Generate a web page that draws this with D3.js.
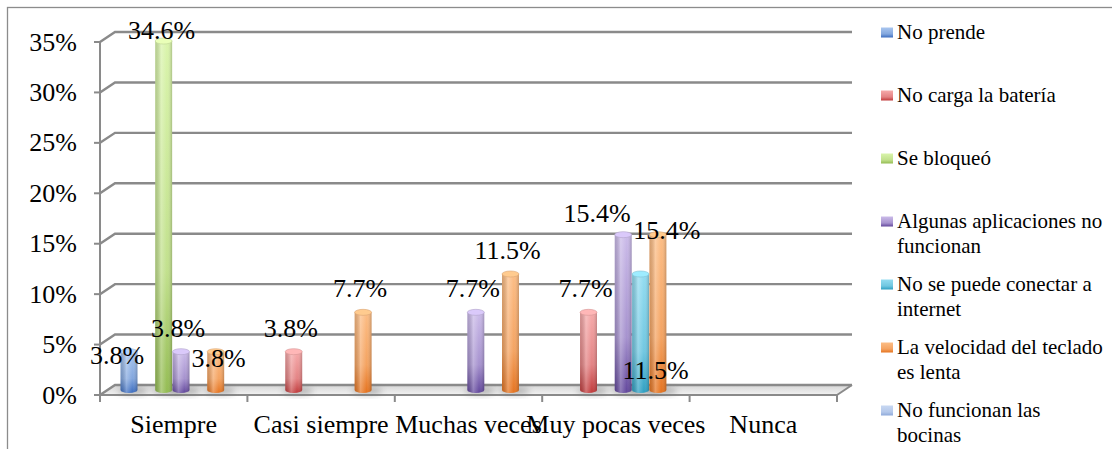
<!DOCTYPE html>
<html>
<head>
<meta charset="utf-8">
<script src="https://cdn.jsdelivr.net/npm/d3@7/dist/d3.min.js"></script>
<style>
  html, body { margin: 0; padding: 0; background: #fff; }
  svg { display: block; }
</style>
</head>
<body>
<svg id="chart" width="1112" height="449"></svg>
<script>
// ---------------- DATA ----------------
const categories = ["Siempre", "Casi siempre", "Muchas veces", "Muy pocas veces", "Nunca"];
const seriesNames = [
  "No prende",
  "No carga la batería",
  "Se bloqueó",
  "Algunas aplicaciones no funcionan",
  "No se puede conectar a internet",
  "La velocidad del teclado es lenta",
  "No funcionan las bocinas"
];
const noPrende        = [3.8, 0,   0,    0,    0];
const noCarga         = [0,   3.8, 0,    7.7,  0];
const seBloqueo       = [34.6, 0,  0,    0,    0];
const algunasApps     = [3.8, 0,   7.7,  15.4, 0];
const noConectar      = [0,   0,   0,    11.5, 0];
const velocidadTeclado= [3.8, 7.7, 11.5, 15.4, 0];
const noBocinas       = [0,   0,   0,    0,    0];
const yTicks = [0, 5, 10, 15, 20, 25, 30, 35];
const yTickLabels = ["0%", "5%", "10%", "15%", "20%", "25%", "30%", "35%"];
const legendLines = [
  ["No prende"],
  ["No carga la batería"],
  ["Se bloqueó"],
  ["Algunas aplicaciones no", "funcionan"],
  ["No se puede conectar a", "internet"],
  ["La velocidad del teclado", "es lenta"],
  ["No funcionan las", "bocinas"]
];
const seriesValues = [noPrende, noCarga, seBloqueo, algunasApps, noConectar, velocidadTeclado, noBocinas];

// ---------------- STYLE ----------------
const FONT = "'Liberation Serif', 'Times New Roman', serif";
const colors = [
  {light: "#a9c6ef", base: "#3b6cbf"},
  {light: "#f6aaaa", base: "#c0393a"},
  {light: "#d9f4ab", base: "#93bb52"},
  {light: "#cbbbe9", base: "#62479c"},
  {light: "#93dcf1", base: "#2e9fc2"},
  {light: "#fcbd85", base: "#e5731f"},
  {light: "#c8d8f2", base: "#8ea9da"}
];
// label offsets relative to bar top-centre (dx, dy) – layout only
const defaultOffset = [-3, -24];
const labelOffsets = {
  "0-0": [-12, 3],
  "2-0": [-2, -11],
  "5-0": [3, 6],
  "3-3": [-26, -22],
  "4-3": [15, 96],
  "5-3": [9, -5]
};

const svg = d3.select("#chart");
const W = 1112, H = 449;
const x0 = 100, x1 = 837;
const depthX = 15, depthY = -10;

function addText(sel, size) {
  return sel.append("text").attr("font-family", "Liberation Serif")
    .style("font-family", FONT).attr("font-size", size).style("font-size", size + "px").attr("fill", "#000");
}

const x = d3.scaleBand().domain(categories).range([x0, x1]).paddingInner(0).paddingOuter(0);
const xs = d3.scaleBand().domain(d3.range(seriesNames.length))
  .range([13, x.bandwidth() - 13]).padding(0);
const y = d3.scaleLinear().domain([0, 35]).range([395, 42]);

const defs = svg.append("defs");
colors.forEach((c, i) => {
  const g = defs.append("linearGradient").attr("id", "vg" + i)
    .attr("x1", 0).attr("y1", 0).attr("x2", 0).attr("y2", 1);
  g.append("stop").attr("offset", "0%").attr("stop-color", c.light);
  g.append("stop").attr("offset", "65%").attr("stop-color", d3.interpolateRgb(c.light, c.base)(0.35));
  g.append("stop").attr("offset", "100%").attr("stop-color", c.base);
});
const hg = defs.append("linearGradient").attr("id", "hshade")
  .attr("x1", 0).attr("y1", 0).attr("x2", 1).attr("y2", 0);
hg.append("stop").attr("offset", "0%").attr("stop-color", "#000").attr("stop-opacity", 0.15);
hg.append("stop").attr("offset", "35%").attr("stop-color", "#fff").attr("stop-opacity", 0.28);
hg.append("stop").attr("offset", "70%").attr("stop-color", "#fff").attr("stop-opacity", 0.0);
hg.append("stop").attr("offset", "100%").attr("stop-color", "#000").attr("stop-opacity", 0.2);
const fg = defs.append("linearGradient").attr("id", "floorg")
  .attr("x1", 0).attr("y1", 0).attr("x2", 0).attr("y2", 1);
fg.append("stop").attr("offset", "0%").attr("stop-color", "#d6d6d6");
fg.append("stop").attr("offset", "100%").attr("stop-color", "#f2f2f2");
defs.append("filter").attr("id", "blur").attr("x", "-50%").attr("y", "-50%").attr("width", "200%").attr("height", "200%")
  .append("feGaussianBlur").attr("stdDeviation", 3);

svg.append("rect").attr("width", W).attr("height", H).attr("fill", "#fff");
// outer border
svg.append("rect").attr("x", 7.5).attr("y", 7.5).attr("width", W + 20).attr("height", H + 20)
  .attr("fill", "none").attr("stroke", "#8c8c8c").attr("stroke-width", 1.3);

const gridColor = "#8a8a8a";
// floor
svg.append("path")
  .attr("d", `M${x0},${y(0)} L${x1},${y(0)} L${x1 + depthX},${y(0) + depthY} L${x0 + depthX},${y(0) + depthY} Z`)
  .attr("fill", "url(#floorg)").attr("stroke", "none");

// gridlines (back wall + left wall diagonal)
yTicks.forEach(t => {
  svg.append("path")
    .attr("d", `M${x0},${y(t)} L${x0 + depthX},${y(t) + depthY} L${x1 + depthX},${y(t) + depthY}`)
    .attr("fill", "none").attr("stroke", gridColor).attr("stroke-width", 2.4);
});
// floor right edge
svg.append("path")
  .attr("d", `M${x1 + depthX},${y(0) + depthY} L${x1},${y(0)}`)
  .attr("fill", "none").attr("stroke", gridColor).attr("stroke-width", 2);

// y axis
svg.append("line").attr("x1", x0).attr("x2", x0).attr("y1", y(35)).attr("y2", y(0))
  .attr("stroke", gridColor).attr("stroke-width", 2);
yTicks.forEach((t, i) => {
  svg.append("line").attr("x1", x0 - 6).attr("x2", x0).attr("y1", y(t)).attr("y2", y(t))
    .attr("stroke", gridColor).attr("stroke-width", 2);
  addText(svg, 26).attr("x", 77).attr("y", y(t)).attr("dy", "0.33em")
    .attr("text-anchor", "end").text(yTickLabels[i]);
});
// x axis front edge
svg.append("line").attr("x1", x0).attr("x2", x1).attr("y1", y(0)).attr("y2", y(0))
  .attr("stroke", gridColor).attr("stroke-width", 2);
const catEdges = categories.map(c => x(c)).concat([x1]);
catEdges.forEach(e => {
  svg.append("line").attr("x1", e).attr("x2", e).attr("y1", y(0)).attr("y2", y(0) + 7)
    .attr("stroke", gridColor).attr("stroke-width", 2);
});
categories.forEach(c => {
  addText(svg, 26).attr("x", x(c) + x.bandwidth() / 2).attr("y", 433)
    .attr("text-anchor", "middle").text(c);
});

// bars
const midX = depthX / 2, midY = depthY / 2;
const barG = svg.append("g");
const bars = [];
seriesValues.forEach((vals, si) => {
  vals.forEach((v, ci) => {
    if (v > 0) bars.push({si, ci, v});
  });
});
const bw = xs.bandwidth() - 0.4;
const ry = 3;
// shadows
bars.forEach(b => {
  const bx = x(categories[b.ci]) + xs(b.si) + midX;
  barG.append("ellipse").attr("cx", bx + bw / 2 + 4).attr("cy", y(0) + midY + 1)
    .attr("rx", bw * 0.9).attr("ry", 4).attr("fill", "#777").attr("opacity", 0.45)
    .attr("filter", "url(#blur)");
});
bars.forEach(b => {
  const bx = x(categories[b.ci]) + xs(b.si) + midX;
  const top = y(b.v) + midY, base = y(0) + midY;
  const c = colors[b.si];
  const body = `M${bx},${top} L${bx},${base} A${bw / 2},${ry} 0 0 0 ${bx + bw},${base} L${bx + bw},${top} Z`;
  barG.append("path").attr("d", body).attr("fill", `url(#vg${b.si})`);
  barG.append("path").attr("d", body).attr("fill", "url(#hshade)");
  barG.append("ellipse").attr("cx", bx + bw / 2).attr("cy", top).attr("rx", bw / 2).attr("ry", ry)
    .attr("fill", d3.color(c.light).brighter(0.2)).attr("stroke", d3.color(c.light).darker(0.4)).attr("stroke-width", 0.6);
});

// data labels
bars.forEach(b => {
  const cx = x(categories[b.ci]) + xs(b.si) + midX + bw / 2;
  const top = y(b.v) + midY;
  const off = labelOffsets[b.si + "-" + b.ci] || defaultOffset;
  addText(svg, 26).attr("x", cx + off[0]).attr("y", top + off[1]).attr("dy", "0.35em")
    .attr("text-anchor", "middle").text(b.v.toFixed(1) + "%");
});

// legend
const legY0 = 32, legStep = 63, lineH = 25;
legendLines.forEach((lines, i) => {
  const ly = legY0 + i * legStep;
  svg.append("rect").attr("x", 881).attr("y", ly - 4.5).attr("width", 12).attr("height", 10)
    .attr("fill", `url(#vg${i})`);
  lines.forEach((ln, j) => {
    addText(svg, 21).attr("x", 897).attr("y", ly + j * lineH).attr("dy", "0.33em").text(ln);
  });
});
</script>
</body>
</html>
